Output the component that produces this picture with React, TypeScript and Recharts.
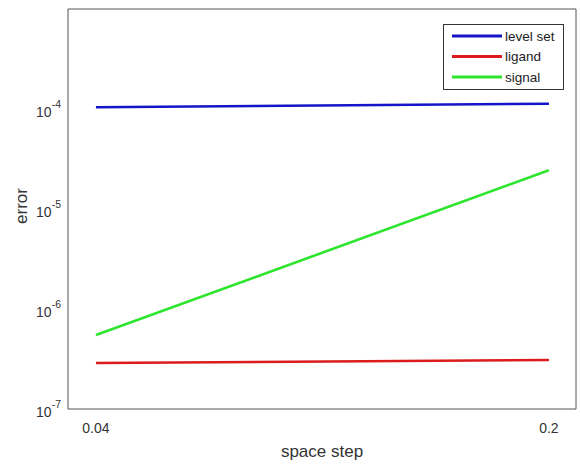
import React from 'react';
import { LineChart, Line, XAxis, YAxis, ReferenceArea, Legend } from 'recharts';

const steps = [0.04, 0.2];
const levelSet = [1.04e-4, 1.13e-4];
const ligand = [2.88e-7, 3.09e-7];
const signal = [5.49e-7, 2.44e-5];
const xTicks = [0.04, 0.2];
const yTicks = [1e-7, 1e-6, 1e-5, 1e-4];
const xDomain = [0.03622, 0.2202];
const yDomain = [1e-7, 1e-3];
const seriesKeys = ['levelSet', 'ligand', 'signal'];
const seriesNames = ['level set', 'ligand', 'signal'];
const seriesColors = ['#1414c8', '#dc1c1c', '#2ee52e'];

const data = steps.map((s, i) => ({
  step: s,
  levelSet: levelSet[i],
  ligand: ligand[i],
  signal: signal[i],
}));

const FONT = '"Liberation Sans", Arial, Helvetica, sans-serif';
const TEXT = '#333';

const YTick = (props: any) => {
  const { x, y, payload } = props;
  const exp = Math.round(Math.log10(payload.value));
  return (
    <text x={x} y={y + 8} textAnchor="end" fontFamily={FONT} fill={TEXT}>
      <tspan fontSize={14}>10</tspan>
      <tspan fontSize={10.5} dy={-9}>{String(exp)}</tspan>
    </text>
  );
};

const LegendBox = () => (
  <svg width={121} height={66} style={{ display: 'block' }}>
    <rect x={0.5} y={0.5} width={120} height={65} fill="#fff" stroke="#333" strokeWidth={1} />
    {seriesNames.map((n, i) => (
      <g key={n}>
        <line x1={9} x2={59} y1={12 + i * 20.5} y2={12 + i * 20.5} stroke={seriesColors[i]} strokeWidth={3} />
        <text x={62} y={12 + i * 20.5 + 4.5} fontSize={13.5} fontFamily={FONT} fill="#222">{n}</text>
      </g>
    ))}
  </svg>
);

export default function App() {
  return (
    <div style={{ position: 'fixed', left: 0, top: 0, width: 580, height: 464, background: '#fff' }}>
      <LineChart width={580} height={464} data={data} margin={{ top: 9, right: 4, bottom: 0, left: 8 }}>
        <XAxis
          dataKey="step"
          type="number"
          scale="log"
          domain={xDomain}
          ticks={xTicks}
          allowDataOverflow
          axisLine={false}
          tickLine={false}
          tickSize={0}
          tickMargin={14}
          height={55}
          tick={{ fontSize: 14, fill: TEXT, fontFamily: FONT }}
          tickFormatter={(v: number) => String(v)}
          label={{
            content: (p: any) => {
              const vb = p.viewBox || { x: 68, y: 409, width: 508, height: 55 };
              return (
                <text x={vb.x + vb.width / 2} y={vb.y + 48} textAnchor="middle" fontSize={17} fontFamily={FONT} fill={TEXT}>
                  space step
                </text>
              );
            },
          }}
        />
        <YAxis
          type="number"
          scale="log"
          domain={yDomain}
          ticks={yTicks}
          allowDataOverflow
          axisLine={false}
          tickLine={false}
          tickSize={0}
          tickMargin={7}
          width={60}
          tick={<YTick />}
          label={{
            content: (p: any) => {
              const vb = p.viewBox || { x: 8, y: 9, width: 60, height: 400 };
              const cy = vb.y + vb.height / 2 - 3;
              return (
                <text x={21} y={cy} transform={`rotate(-90, 21, ${cy})`} textAnchor="middle" dominantBaseline="central" fontSize={17} fontFamily={FONT} fill={TEXT}>
                  error
                </text>
              );
            },
          }}
        />
        <ReferenceArea
          x1={xDomain[0]}
          x2={xDomain[1]}
          y1={yDomain[0]}
          y2={yDomain[1]}
          fill="none"
          fillOpacity={0}
          stroke="#555"
          strokeWidth={1}
          ifOverflow="visible"
        />
        {seriesKeys.map((k, i) => (
          <Line
            key={k}
            dataKey={k}
            name={seriesNames[i]}
            stroke={seriesColors[i]}
            strokeWidth={2.6}
            dot={false}
            isAnimationActive={false}
          />
        ))}
        <Legend
          layout="vertical"
          align="center"
          verticalAlign="middle"
          content={() => <LegendBox />}
          wrapperStyle={{ position: 'absolute', left: 443, top: 24, width: 121, height: 66, margin: 0 }}
        />
      </LineChart>
    </div>
  );
}
